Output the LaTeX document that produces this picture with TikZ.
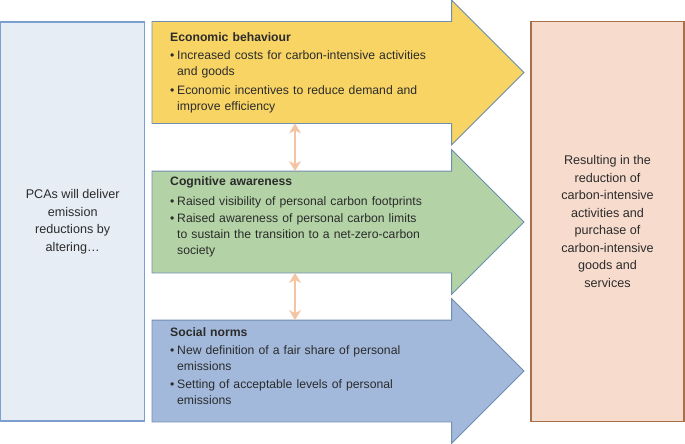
\documentclass[tikz,border=0pt]{standalone}
\usepackage{fontspec}
\setmainfont{Liberation Sans}
\usetikzlibrary{shapes.arrows,arrows.meta}
\definecolor{txt}{HTML}{2B2B2B}
\definecolor{leftfill}{HTML}{E6EDF5}
\definecolor{leftdraw}{HTML}{7D9FCF}
\definecolor{rightfill}{HTML}{F7DCCD}
\definecolor{rightdraw}{HTML}{A5704A}
\definecolor{yel}{HTML}{F8D465}
\definecolor{grn}{HTML}{B3D3A6}
\definecolor{blu}{HTML}{A2B9DB}
\definecolor{arrdraw}{HTML}{6F8FB0}
\definecolor{peach}{HTML}{F5C4A3}
\newdimen\itemdp
\newcommand\bitem[1]{\par\noindent\makebox[7pt][l]{\textbullet}\parbox[t]{320pt}{#1\par\global\itemdp=\prevdepth}\par\prevdepth=\itemdp}
\begin{document}
\begin{tikzpicture}[x=1pt,y=-1pt,
  bigarrow/.style={single arrow, draw=arrdraw, line width=0.8pt, inner xsep=0pt, inner ysep=50.5pt, outer sep=0pt,
    minimum height=372pt, minimum width=144pt, single arrow head extend=21.5pt,
    single arrow tip angle=90, anchor=tail},
  arrtext/.style={anchor=base west, inner sep=0pt, text width=340pt, align=left, text=txt,
    font=\fontsize{12.2}{16}\selectfont},
  sidebox/.style={anchor=north west, inner sep=0pt, outer sep=0pt, text=txt, align=center,
    font=\fontsize{12.6}{17.5}\selectfont},
  link/.style={peach, line width=2.6pt, {Stealth[width=12pt,length=10pt,inset=3pt]}-{Stealth[width=12pt,length=10pt,inset=3pt]}}
]
\useasboundingbox (0,0) rectangle (685,444);
\node[sidebox, fill=leftfill, draw=leftdraw, line width=1.4pt, minimum width=144pt, minimum height=399pt] (pca) at (0.7,22)
  {PCAs will deliver\\emission\\reductions by\\altering\dots};
\node[sidebox, fill=rightfill, draw=rightdraw, line width=1.2pt, minimum width=153pt, minimum height=400pt] (res) at (531,21.5)
  {Resulting in the\\reduction of\\carbon-intensive\\activities and\\purchase of\\carbon-intensive\\goods and\\services};
\node[bigarrow, fill=yel] (econ) at (152,72.5) {};
\node[bigarrow, fill=grn] (cog) at (152,222) {};
\node[bigarrow, fill=blu] (soc) at (152,371) {};
\node[arrtext] (econt) at (170,42) {{\bfseries Economic behaviour}\par\vspace{1.5pt}
  \bitem{Increased costs for carbon-intensive activities\\and goods}\vspace{2.5pt}
  \bitem{Economic incentives to reduce demand and\\improve efficiency}};
\node[arrtext] (cogt) at (170,185.5) {{\bfseries Cognitive awareness}\par\vspace{3.5pt}
  \bitem{Raised visibility of personal carbon footprints}\vspace{1pt}
  \bitem{Raised awareness of personal carbon limits\\to sustain the transition to a net-zero-carbon\\society}};
\node[arrtext] (soct) at (170,336.5) {{\bfseries Social norms}\par\vspace{1.5pt}
  \bitem{New definition of a fair share of personal\\emissions}\vspace{2.5pt}
  \bitem{Setting of acceptable levels of personal\\emissions}};
\coordinate (lx) at (295,0);
\draw[link] (econ.south -| lx) -- (cog.north -| lx);
\draw[link] (cog.south -| lx) -- (soc.north -| lx);
\end{tikzpicture}
\end{document}
